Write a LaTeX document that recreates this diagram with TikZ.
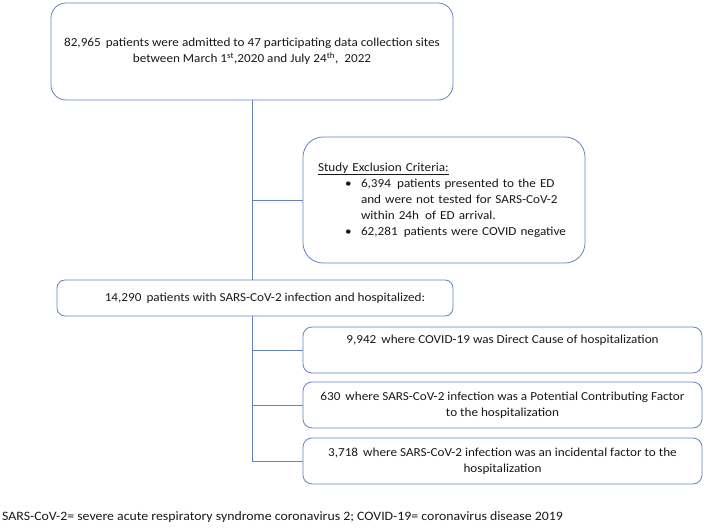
\documentclass[tikz,border=0pt]{standalone}
\usepackage{fontspec}
\setmainfont{Carlito}[FakeStretch=1.08]
\definecolor{boxline}{RGB}{100,132,192}
\begin{document}
\begin{tikzpicture}[x=1pt,y=-1pt,
  every node/.style={font=\fontsize{12.2}{16}\selectfont, text=black!90},
  box/.style={draw=boxline, line width=0.8pt, fill=white, align=center, inner sep=0pt},
  conn/.style={draw=boxline, line width=0.8pt}]
\useasboundingbox (0,0) rectangle (708,529);
\node[box, rounded corners=15pt, minimum width=402, minimum height=97] (top) at (252,51.5)
  {82,965\ \,patients were admitted to 47 participating data collection sites\\
   between March 1\textsuperscript{st},2020 and July 24\textsuperscript{th}, \ 2022};
\node[box, rounded corners=20pt, minimum width=282, minimum height=126, text width=252, align=left] (excl) at (444,200)
  {\underline{Study Exclusion Criteria:}\\
   \hspace*{27pt}\makebox[16pt][l]{\textbullet}6,394\ \,patients presented to the ED\\
   \hspace*{43pt}and were not tested for SARS-CoV-2\\
   \hspace*{43pt}within 24h\ \,of ED arrival.\\
   \hspace*{27pt}\makebox[16pt][l]{\textbullet}62,281\ \,patients were COVID negative\\[6pt]};
\node[box, rounded corners=8pt, minimum width=396, minimum height=36] (mid) at (255,298)
  {\hspace*{20pt}14,290\ \,patients with SARS-CoV-2 infection and hospitalized:};
\node[box, rounded corners=9pt, minimum width=399, minimum height=46] (boxA) at (502.5,350)
  {9,942\ \,where COVID-19 was Direct Cause of hospitalization\\ \strut};
\node[box, rounded corners=9pt, minimum width=399, minimum height=46] (boxB) at (502.5,405)
  {630\ \,where SARS-CoV-2 infection was a Potential Contributing Factor\\ to the hospitalization};
\node[box, rounded corners=9pt, minimum width=399, minimum height=46] (boxC) at (502.5,461)
  {3,718\ \,where SARS-CoV-2 infection was an incidental factor to the\\ hospitalization};
\node[anchor=west, inner sep=0pt, font=\fontsize{12.8}{16}\selectfont] (foot) at (2,517)
  {SARS-CoV-2= severe acute respiratory syndrome coronavirus 2; COVID-19= coronavirus disease 2019};
\coordinate (jE) at (top.south |- excl.west);
\coordinate (jA) at (top.south |- boxA.west);
\coordinate (jB) at (top.south |- boxB.west);
\coordinate (jC) at (top.south |- boxC.west);
\path[conn] (top.south) -- (top.south |- mid.north);
\path[conn] (top.south |- mid.south) -- (jC);
\path[conn] (jE) -- (excl.west);
\path[conn] (jA) -- (boxA.west);
\path[conn] (jB) -- (boxB.west);
\path[conn] (jC) -- (boxC.west);
\end{tikzpicture}
\end{document}
